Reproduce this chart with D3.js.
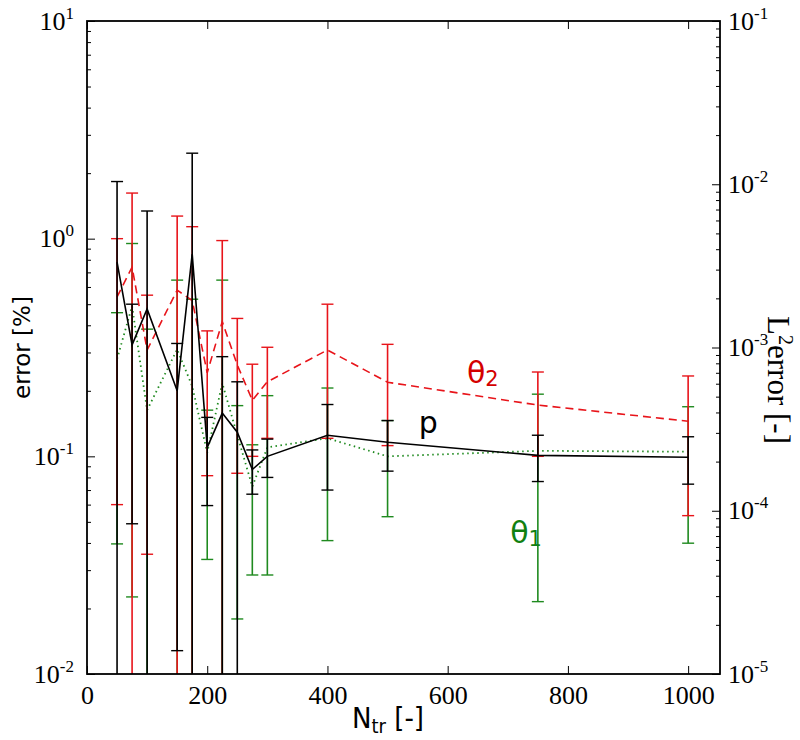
<!DOCTYPE html>
<html><head><meta charset="utf-8">
<script src="https://cdn.jsdelivr.net/npm/d3@7"></script>
<style>body{margin:0;background:#fff}</style>
</head><body>
<svg id="c" width="800" height="740"></svg>
<script>
// ---- data ----
const xs = [50,75,100,150,175,200,225,250,275,300,400,500,750,1000];
// p (black)
const pMean = [0.78,0.325,0.475,0.20,0.85,0.110,0.158,0.129,0.087,0.100,0.125,0.116,0.101,0.099];
const pLow  = [0,0.049,0,0.0128,0,0.0594,0,0,0.067,0.080,0.070,0.0855,0.0766,0.0745];
const pHigh = [1.83,0.50,1.34,0.33,2.47,0.151,0.287,0.220,0.107,0.120,0.173,0.146,0.125,0.123];
// theta2 (red)
const t2Mean = [0.54,0.74,0.308,0.58,0.52,0.242,0.416,0.263,0.181,0.220,0.308,0.219,0.172,0.145];
const t2Low  = [0.060,0,0.0355,0,0,0.0815,0,0.0836,0.10,0.121,0.121,0.112,0.10,0.0534];
const t2High = [1.0,1.62,0.55,1.27,1.135,0.377,0.98,0.43,0.265,0.317,0.50,0.327,0.244,0.234];
// theta1 (green)
const t1Mean = [0.28,0.49,0.163,0.31,0.21,0.104,0.217,0.125,0.0726,0.110,0.121,0.100,0.106,0.105];
const t1Low  = [0.0396,0.0226,0,0,0,0.0336,0,0.0179,0.0285,0.0285,0.041,0.0528,0.0215,0.0399];
const t1High = [0.457,0.95,0.384,0.645,0.527,0.163,0.645,0.171,0.113,0.190,0.206,0.146,0.193,0.169];

const xTicks = [0,200,400,600,800,1000];
const yMajor = [0.01,0.1,1,10];
const yExp = ["-2","-1","0","1"];
const y2Major = [1e-5,1e-4,1e-3,1e-2,1e-1];
const y2Exp = ["-5","-4","-3","-2","-1"];
const seriesLabels = [
  {name:"θ", sub:"2", color:"#d40000", x:632, y:0.217},
  {name:"p", sub:"", color:"#000", x:552, y:0.128},
  {name:"θ", sub:"1", color:"#118011", x:704, y:0.040}
];

// ---- layout ----
const L=87, R=720, T=21, B=674;
const svg = d3.select("#c");
const x = d3.scaleLinear().domain([0,1053]).range([L,R]);
const y = d3.scaleLog().domain([0.01,10]).range([B,T]);
const y2 = d3.scaleLog().domain([1e-5,1e-1]).range([B,T]);
const SERIF = "'Liberation Serif','Times New Roman',serif";
const SANS = "'DejaVu Sans',sans-serif";

svg.append("defs").append("clipPath").attr("id","clip")
  .append("rect").attr("x",L).attr("y",T).attr("width",R-L).attr("height",B-T);

const plot = svg.append("g").attr("clip-path","url(#clip)");

function minorVals(scale){
  const [a,b]=scale.domain(); const out=[];
  for(let e=Math.round(Math.log10(a)); e<Math.round(Math.log10(b)); e++)
    for(let k=2;k<=9;k++) out.push(k*Math.pow(10,e));
  return out;
}

function drawSeries(mean, lo, hi, color, dash, width){
  const g = plot.append("g");
  const yc = v => v<=0 ? B+20 : y(v);
  xs.forEach((xv,i)=>{
    const xp = x(xv);
    g.append("line").attr("x1",xp).attr("x2",xp).attr("y1",yc(lo[i])).attr("y2",yc(hi[i]))
      .attr("stroke",color).attr("stroke-width",1.6);
    [lo[i],hi[i]].forEach(v=>{
      if(v>0) g.append("line").attr("x1",xp-6).attr("x2",xp+6).attr("y1",y(v)).attr("y2",y(v))
        .attr("stroke",color).attr("stroke-width",1.4);
    });
  });
  const line = d3.line().x((d,i)=>x(xs[i])).y(d=>y(d));
  g.append("path").attr("d",line(mean)).attr("fill","none").attr("stroke",color)
    .attr("stroke-width",width).attr("stroke-dasharray",dash);
}
drawSeries(t1Mean,t1Low,t1High,"#1f8a1f","1.5,3.5",1.8);
drawSeries(t2Mean,t2Low,t2High,"#e8141a","8,5",1.6);
drawSeries(pMean,pLow,pHigh,"#000",null,1.6);

// ---- axes ----
const axStyle = g => { g.selectAll(".domain").remove(); g.selectAll("line").attr("stroke","#000"); };
// bottom
svg.append("g").attr("transform",`translate(0,${B})`)
  .call(d3.axisBottom(x).tickValues(xTicks).tickSizeInner(-8).tickSizeOuter(0).tickPadding(12).tickFormat(d3.format("d")))
  .call(axStyle)
  .call(g=>g.selectAll("text").attr("font-family",SERIF).attr("font-size",26).attr("fill","#000"));
// top
svg.append("g").attr("transform",`translate(0,${T})`)
  .call(d3.axisTop(x).tickValues(xTicks).tickSizeInner(-8).tickSizeOuter(0).tickFormat(""))
  .call(axStyle);
// left major
const lg = svg.append("g").attr("transform",`translate(${L},0)`)
  .call(d3.axisLeft(y).tickValues(yMajor).tickSizeInner(-8).tickSizeOuter(0).tickPadding(14).tickFormat(""))
  .call(axStyle);
lg.selectAll(".tick").each(function(d,i){
  const t = d3.select(this).append("text").attr("x",-13).attr("y",8).attr("text-anchor","end")
    .attr("font-family",SERIF).attr("font-size",26).attr("fill","#000");
  t.append("tspan").text("10");
  t.append("tspan").attr("dy",-11).attr("font-size",17).text(yExp[i]);
});
svg.append("g").attr("transform",`translate(${L},0)`)
  .call(d3.axisLeft(y).tickValues(minorVals(y)).tickSizeInner(-4).tickSizeOuter(0).tickFormat(""))
  .call(axStyle);
// right
const rg = svg.append("g").attr("transform",`translate(${R},0)`)
  .call(d3.axisRight(y2).tickValues(y2Major).tickSizeInner(-8).tickSizeOuter(0).tickFormat(""))
  .call(axStyle);
rg.selectAll(".tick").each(function(d,i){
  const t = d3.select(this).append("text").attr("x",8).attr("y",8).attr("text-anchor","start")
    .attr("font-family",SERIF).attr("font-size",26).attr("fill","#000");
  t.append("tspan").text("10");
  t.append("tspan").attr("dy",-11).attr("font-size",17).text(y2Exp[i]);
});
svg.append("g").attr("transform",`translate(${R},0)`)
  .call(d3.axisRight(y2).tickValues(minorVals(y2)).tickSizeInner(-4).tickSizeOuter(0).tickFormat(""))
  .call(axStyle);
// frame
svg.append("rect").attr("x",L).attr("y",T).attr("width",R-L).attr("height",B-T)
  .attr("fill","none").attr("stroke","#000").attr("stroke-width",1.8);

// ---- axis titles ----
svg.append("text").attr("transform",`translate(30,${(T+B)/2}) rotate(-90)`)
  .attr("text-anchor","middle").attr("font-family",SANS).attr("font-size",23).text("error [%]");
const r2 = svg.append("text").attr("transform",`translate(768,380) rotate(90)`)
  .attr("text-anchor","middle").attr("font-family",SERIF).attr("font-size",31);
r2.append("tspan").text("L");
r2.append("tspan").attr("dy",-11).attr("font-size",20).text("2");
r2.append("tspan").attr("dy",11).text("error [-]");
const xt = svg.append("text").attr("x",388).attr("y",728).attr("text-anchor","middle")
  .attr("font-family","'DejaVu Sans Condensed','DejaVu Sans',sans-serif").attr("font-stretch","condensed").attr("font-size",29);
xt.append("tspan").text("N");
xt.append("tspan").attr("dy",5).attr("font-size",20).text("tr");
xt.append("tspan").attr("dy",-5).text(" [-]");

// ---- series labels ----
seriesLabels.forEach(s=>{
  const t = svg.append("text").attr("x",x(s.x)).attr("y",y(s.y)).attr("fill",s.color)
    .attr("font-family",SANS).attr("font-size",30);
  t.append("tspan").text(s.name);
  if(s.sub) t.append("tspan").attr("dy",3).attr("font-size",21).text(s.sub);
});
</script>
</body></html>
